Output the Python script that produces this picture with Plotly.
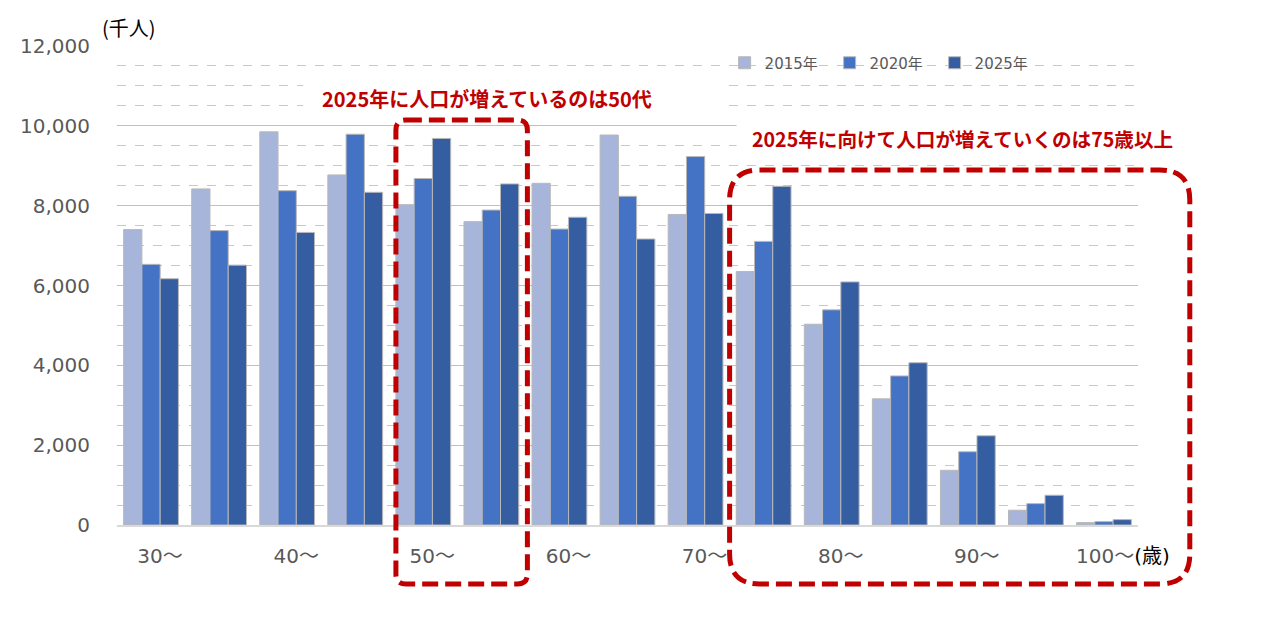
import plotly.graph_objects as go

# 年齢階級（5歳刻み）
ages = ["30〜", "35〜", "40〜", "45〜", "50〜", "55〜", "60〜", "65〜",
        "70〜", "75〜", "80〜", "85〜", "90〜", "95〜", "100〜"]
tick_ages = ["30〜", "40〜", "50〜", "60〜", "70〜", "80〜", "90〜", "100〜"]
# the unit (歳) follows the last label
tick_text = tick_ages[:-1] + ["\u2003100〜<span style='color:black'>(歳)</span>"]

# 人口（千人）
pop_2015 = [7400, 8420, 9850, 8770, 8025, 7600, 8560, 9770, 7780, 6350, 5030, 3160, 1370, 370, 60]
pop_2020 = [6530, 7375, 8375, 9790, 8680, 7890, 7415, 8235, 9230, 7105, 5390, 3735, 1835, 535, 85]
pop_2025 = [6170, 6510, 7330, 8335, 9685, 8545, 7710, 7165, 7805, 8485, 6090, 4065, 2235, 745, 135]

colors = {"2015年": "#A7B5DA", "2020年": "#4472C4", "2025年": "#355DA2"}

# page body margin is 8px, so the figure starts at (8, 8) in the window
OFF = 8
W, H = 1266 - OFF, 635 - OFF
# plot area in window pixels: x 113..1138, y 46..525
L, R, T, B = 113 - OFF, 1266 - 1138, 46 - OFF, 635 - 525
pw, ph = W - L - R, H - T - B


def px(x):
    return (x - OFF - L) / pw


def py(y):
    return (H - B - (y - OFF)) / ph


def rounded_box(x0, y0, x1, y1, r):
    # rounded rectangle path in paper coords, r in pixels
    rx, ry = r / pw, r / ph
    a, b, c, d = px(x0), px(x1), py(y0), py(y1)  # c = top, d = bottom
    return (f"M {a + rx} {c} L {b - rx} {c} Q {b} {c} {b} {c - ry} "
            f"L {b} {d + ry} Q {b} {d} {b - rx} {d} "
            f"L {a + rx} {d} Q {a} {d} {a} {d + ry} "
            f"L {a} {c - ry} Q {a} {c} {a + rx} {c} Z")


fig = go.Figure()
for name, vals in zip(colors, [pop_2015, pop_2020, pop_2025]):
    fig.add_bar(x=ages, y=vals, name=name, marker_color=colors[name],
                marker_line=dict(color="#B8B8B8", width=1))

tick_font = dict(family="DejaVu Sans, Noto Sans CJK JP", size=20, color="#595959")
fig.update_layout(
    width=W, height=H,
    margin=dict(l=L, r=R, t=T, b=B),
    plot_bgcolor="white", paper_bgcolor="white",
    barmode="group", bargap=0.195, bargroupgap=0,
    showlegend=True,
    legend=dict(orientation="h", x=px(723), xanchor="left", y=py(63), yanchor="middle",
                bgcolor="rgba(0,0,0,0)", entrywidth=60, entrywidthmode="pixels",
                itemwidth=30, traceorder="normal",
                font=dict(family="DejaVu Sans, Noto Sans CJK JP", size=15, color="#595959")),
    font=dict(family="Noto Sans CJK JP"),
)
fig.update_yaxes(range=[0, 12000], dtick=2000, tickformat=",d",
                 showgrid=True, gridcolor="#C0C0C0", gridwidth=1,
                 minor=dict(dtick=500, showgrid=True, gridcolor="#C8C8C8", griddash="dash", gridwidth=1),
                 zeroline=False, showline=False, tickfont=tick_font, ticklabelstandoff=26)
fig.update_xaxes(tickmode="array", tickvals=tick_ages, ticktext=tick_text,
                 showline=True, linecolor="#D9D9D9", linewidth=2,
                 tickfont=tick_font, ticklabelstandoff=12, ticklabelshift=9)

# white panels behind the two notes (hide the gridlines there)
for x0, y0, x1, y1 in [(300, 76, 722, 116), (735, 118, 1180, 160)]:
    fig.add_shape(type="rect", xref="paper", yref="paper", layer="above",
                  x0=px(x0), x1=px(x1), y0=py(y1), y1=py(y0),
                  fillcolor="white", line=dict(width=0))

red = "#C00000"
fig.add_shape(type="path", xref="paper", yref="paper", path=rounded_box(393, 120, 525, 584, 10),
              line=dict(color=red, width=5, dash="16px,7px"))
fig.add_shape(type="path", xref="paper", yref="paper", path=rounded_box(728, 170, 1190, 584, 30),
              line=dict(color=red, width=5, dash="16px,7px"))

fig.add_annotation(xref="paper", yref="paper", x=px(484), y=py(98), xanchor="center", yanchor="middle",
                   showarrow=False, text="<b>2025年に人口が増えているのは50代</b>",
                   font=dict(family="Noto Sans CJK JP", size=20, color=red))
fig.add_annotation(xref="paper", yref="paper", x=px(962), y=py(138), xanchor="center", yanchor="middle",
                   showarrow=False, text="<b>2025年に向けて人口が増えていくのは75歳以上</b>",
                   font=dict(family="Noto Sans CJK JP", size=19.6, color=red))
fig.add_annotation(xref="paper", yref="paper", x=px(96), y=py(27), xanchor="left", yanchor="middle",
                   showarrow=False, text="(千人)",
                   font=dict(family="Noto Sans CJK JP", size=20, color="black"))

fig.write_html("out.html")
